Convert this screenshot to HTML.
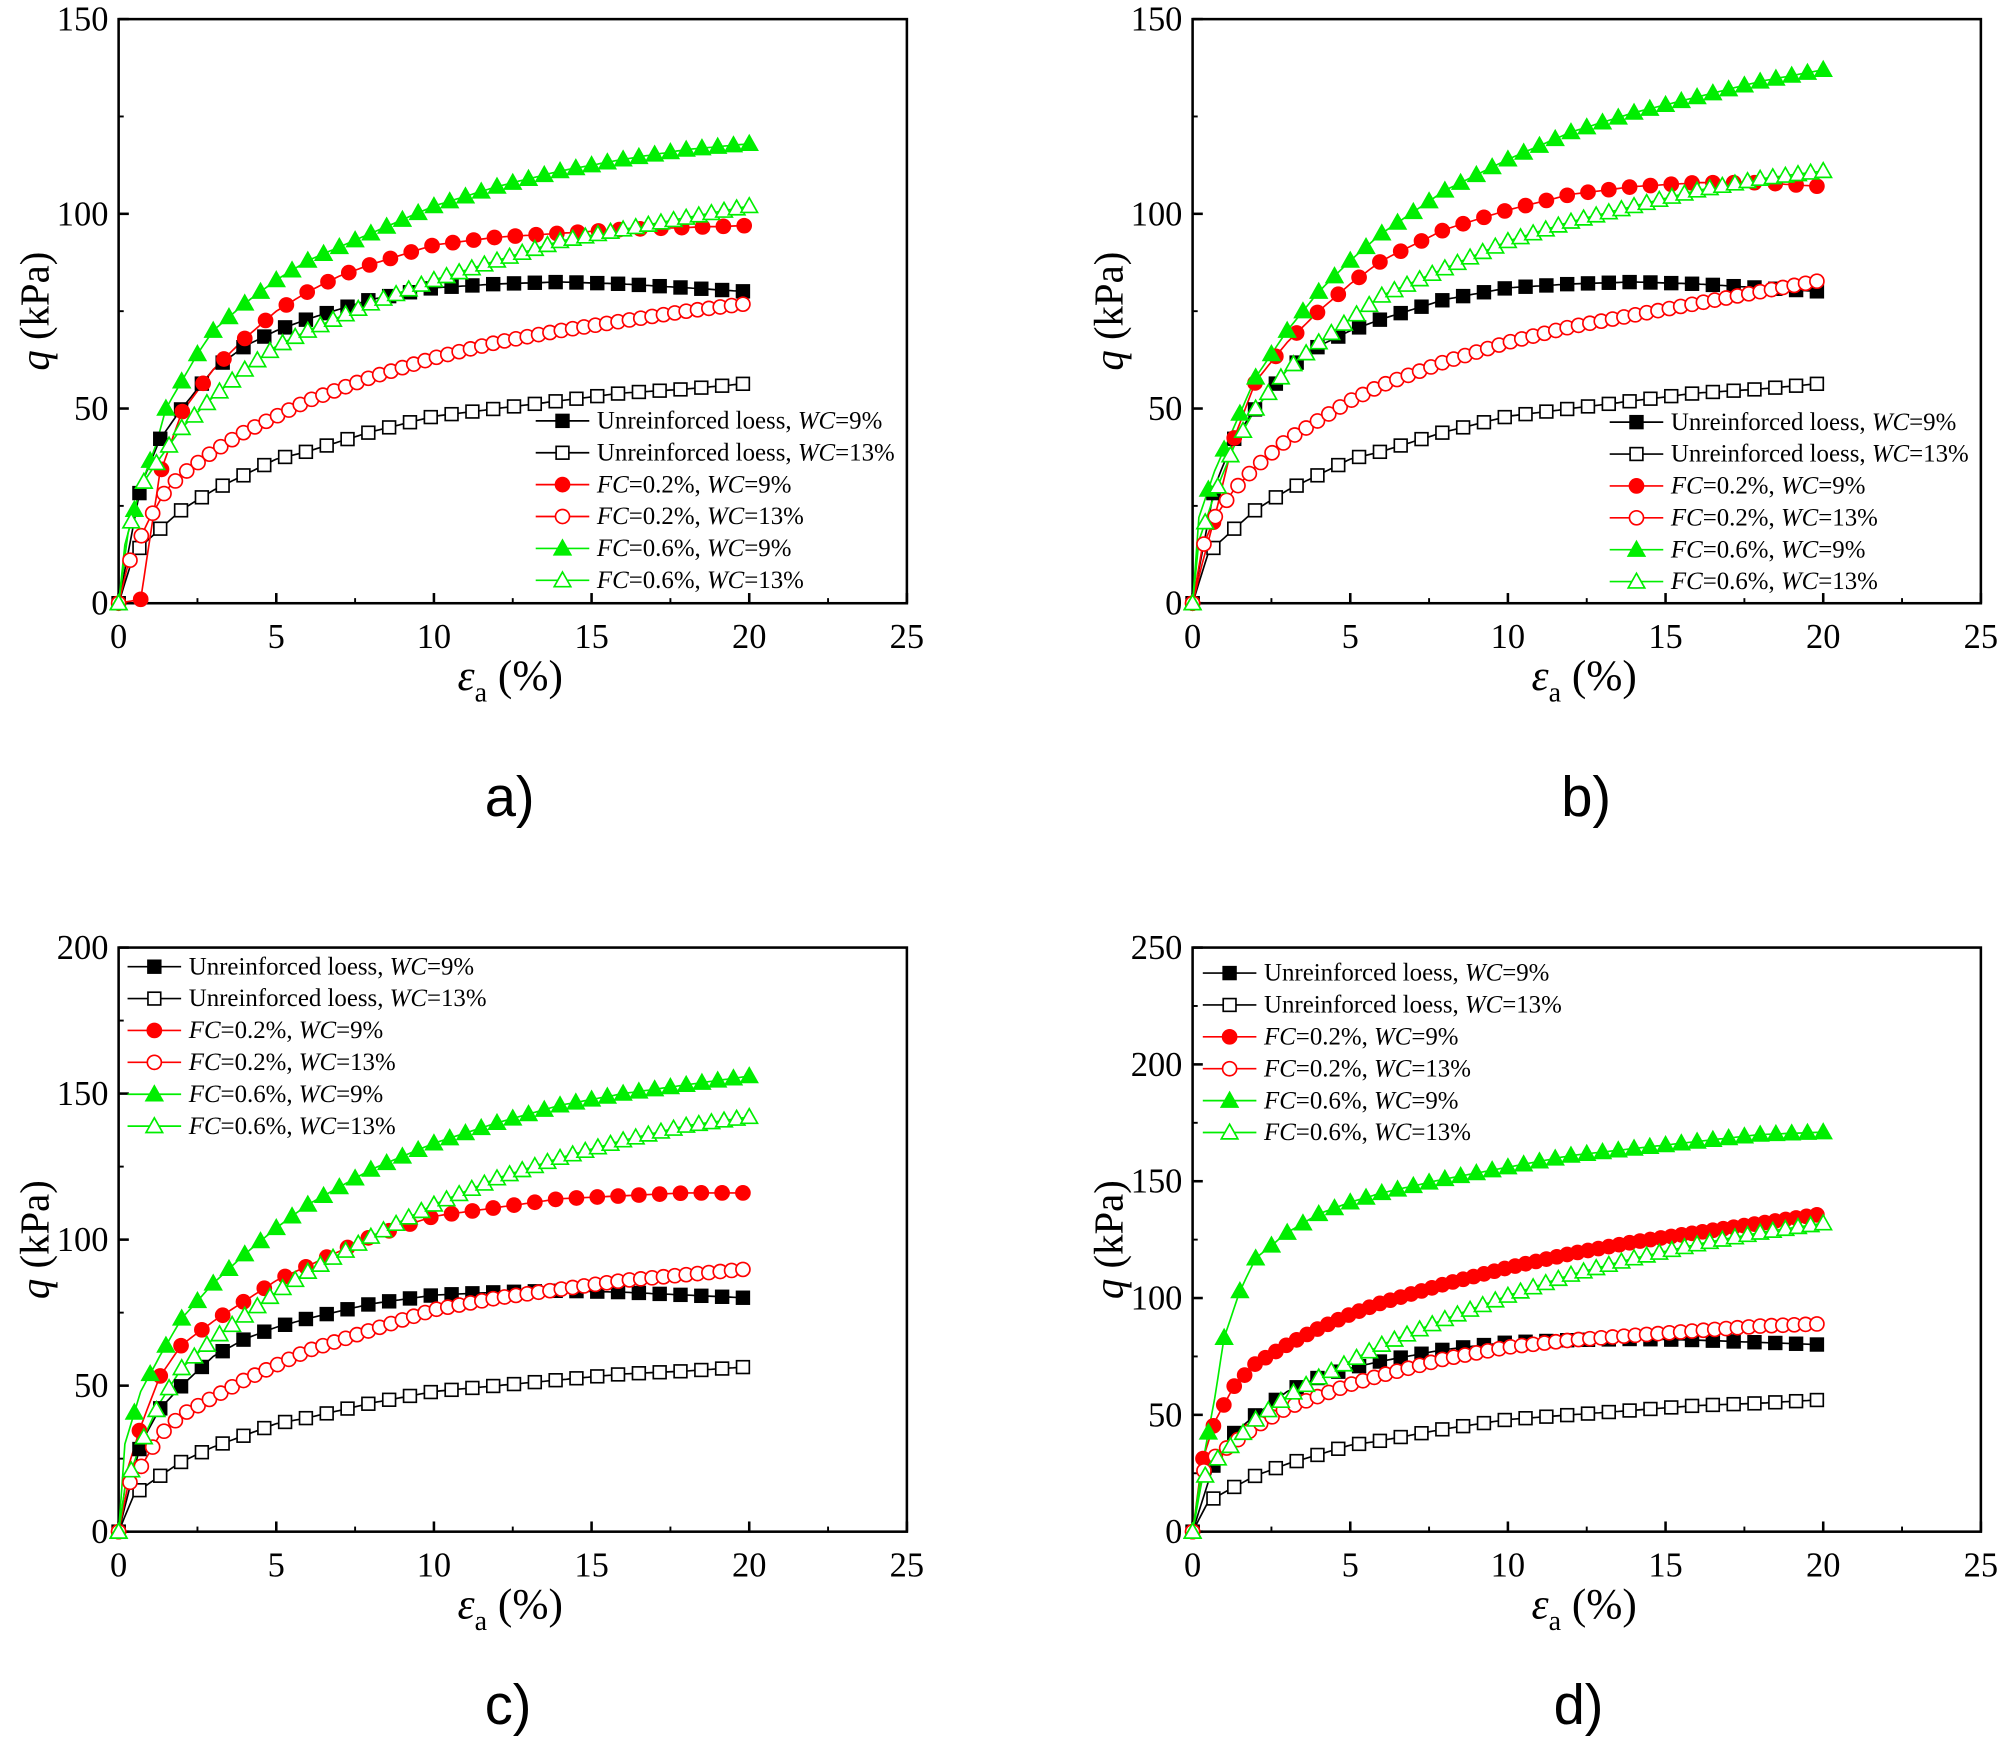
<!DOCTYPE html>
<html><head><meta charset="utf-8"><style>html,body{margin:0;padding:0;background:#fff}svg{display:block}</style></head>
<body>
<svg id="s" width="2000" height="1737" viewBox="0 0 1568 1362" preserveAspectRatio="none" xmlns="http://www.w3.org/2000/svg" font-family="Liberation Serif, serif">
</svg>
<script>
const S=document.getElementById('s');let h='';
const U9=[[0,0],[0.7,30],[1.3,42],[2,50],[3,60],[4,66],[5,70],[6,73],[8,78],[10,81],[12,82],[14,82.5],[16,82],[18,81],[20,80]];
const U13=[[0,0],[0.5,13],[1.3,19],[2,24],[3,29],[4,33],[5,37],[6,39],[8,44],[10,48],[12,50],[14,52],[16,54],[18,55],[20,56.5]];
const P=[
{x0:93,y0:15,ymax:150,yt:[0,50,100,150],leg:[420,330],lab:'a)',lx:380,ly:640,d:[U9,U13,
[[0,0],[0.7,1],[1.3,33],[2,49],[3,60],[4,68],[5,75],[6,80],[7,84],[8,87],[10,92],[12,94],[14,95],[16,96],[18,96.5],[20,97]],
[[0,0],[0.3,10],[0.7,17],[1,22],[1.5,29],[2,33],[3,39],[4,44],[5,48],[6,52],[8,58],[10,63],[12,67],[14,70],[16,72.5],[18,75],[20,77]],
[[0,0],[0.2,15],[0.7,30],[1.2,41],[1.5,50],[2,57],[2.5,64],[3,70],[4,77],[5,83],[6,88],[8,95],[10,102],[12,107],[14,111],[16,114],[18,116.5],[20,118]],
[[0,0],[0.3,18],[0.7,30],[1.2,36],[2,45],[3,53],[4,60],[5,66],[6,70],[8,77],[10,83],[12,88],[14,93],[16,96],[18,99],[20,102]]]},
{x0:935,y0:15,ymax:150,yt:[0,50,100,150],leg:[1262,331],lab:'b)',lx:1224,ly:640,d:[U9,U13,
[[0,0],[0.3,10],[0.7,22],[1.3,42],[2,57],[3,67],[4,75],[5,82],[6,88],[7,92],[8,96],[10,101],[12,105],[14,107],[16,108],[18,108],[20,107]],
[[0,0],[0.3,14],[0.7,22],[1.3,29],[2,35],[3,42],[4,47],[5,52],[6,56],[8,62],[10,67],[12,71],[14,74],[16,77],[18,80],[20,83]],
[[0,0],[0.2,22],[0.7,34],[1.3,45],[2,58],[3,70],[4,80],[5,88],[6,95],[8,106],[10,114],[12,121],[14,126],[16,130],[18,134],[20,137]],
[[0,0],[0.2,16],[0.7,28],[1.3,40],[2,50],[3,60],[4,67],[5,73],[6,79],[8,86],[10,93],[12,98],[14,102],[16,106],[18,109],[20,111]]]},
{x0:93,y0:743,ymax:200,yt:[0,50,100,150,200],leg:[100,758],lab:'c)',lx:380,ly:1352,d:[U9,U13,
[[0,0],[0.3,22],[0.7,36],[1.3,53],[2,64],[3,72],[4,79],[5,86],[6,91],[8,101],[10,108],[12,111],[14,114],[16,115],[18,116],[20,116]],
[[0,0],[0.3,16],[0.7,22],[1.3,33],[2,40],[3,46],[4,52],[5,57],[6,62],[8,69],[10,76],[12,80],[14,83],[16,86],[18,88],[20,90]],
[[0,0],[0.2,30],[0.7,48],[1.3,60],[2,73],[3,85],[4,95],[5,104],[6,112],[8,124],[10,133],[12,140],[14,146],[16,150],[18,153],[20,156]],
[[0,0],[0.2,15],[0.7,30],[1.3,44],[2,56],[3,66],[4,74],[5,82],[6,89],[8,101],[10,112],[12,121],[14,128],[16,134],[18,139],[20,142]]]},
{x0:935,y0:743,ymax:250,yt:[0,50,100,150,200,250],leg:[943,763],lab:'d)',lx:1218,ly:1352,dense:1,d:[U9,U13,
[[0,0],[0.3,30],[0.7,47],[1.3,62],[2,72],[3,80],[4,87],[5,93],[6,98],[8,106],[10,113],[12,119],[14,124],[16,128],[18,132],[20,136]],
[[0,0],[0.3,25],[0.7,32],[1.3,38],[2,45],[3,53],[4,58],[5,63],[6,67],[8,74],[10,79],[12,82],[14,84],[16,86],[18,88],[20,89]],
[[0,0],[0.3,28],[0.7,57],[1,83],[1.5,103],[2,117],[3,128],[4,136],[5,141],[6,145],[8,151],[10,156],[12,161],[14,164],[16,167],[18,170],[20,171]],
[[0,0],[0.3,22],[0.7,30],[1.3,38],[2,48],[3,58],[4,66],[5,73],[6,80],[8,91],[10,101],[12,110],[14,117],[16,123],[18,128],[20,132]]]}
];
const ST=[{c:'#000',m:'s',f:1,st:0.66},{c:'#000',m:'s',f:0,st:0.66},{c:'#f00',m:'c',f:1,st:0.66},{c:'#f00',m:'c',f:0,st:0.36},{c:'#0e0',m:'t',f:1,st:0.5},{c:'#0e0',m:'t',f:0,st:0.4}];
const LBL=['Unreinforced loess, <tspan font-style="italic">WC</tspan>=9%','Unreinforced loess, <tspan font-style="italic">WC</tspan>=13%',
'<tspan font-style="italic">FC</tspan>=0.2%, <tspan font-style="italic">WC</tspan>=9%','<tspan font-style="italic">FC</tspan>=0.2%, <tspan font-style="italic">WC</tspan>=13%',
'<tspan font-style="italic">FC</tspan>=0.6%, <tspan font-style="italic">WC</tspan>=9%','<tspan font-style="italic">FC</tspan>=0.6%, <tspan font-style="italic">WC</tspan>=13%'];
function interp(k,e){for(let i=1;i<k.length;i++){if(e<=k[i][0]){const a=k[i-1],b=k[i];return a[1]+(b[1]-a[1])*(e-a[0])/(b[0]-a[0]);}}return k[k.length-1][1];}
function mk(m,x,y,c,f){const fill=f?c:'#fff';
 if(m==='s')return `<rect x="${x-5}" y="${y-5}" width="10" height="10" fill="${fill}" stroke="${c}" stroke-width="1.3"/>`;
 if(m==='c')return `<circle cx="${x}" cy="${y}" r="5.5" fill="${fill}" stroke="${c}" stroke-width="1.3"/>`;
 return `<polygon points="${x},${y-6.5} ${x+6.5},${y+5} ${x-6.5},${y+5}" fill="${fill}" stroke="${c}" stroke-width="1.3"/>`;}
P.forEach(p=>{const W=618,H=458,xs=W/25,ys=H/p.ymax,X=e=>p.x0+e*xs,Y=q=>p.y0+H-q*ys;
 h+=`<rect x="${p.x0}" y="${p.y0}" width="${W}" height="${H}" fill="none" stroke="#000" stroke-width="2"/>`;
 for(let v=0;v<=25;v+=5){h+=`<line x1="${X(v)}" y1="${p.y0+H}" x2="${X(v)}" y2="${p.y0+H-8}" stroke="#000" stroke-width="2"/>`;
  if(v<25)h+=`<line x1="${X(v+2.5)}" y1="${p.y0+H}" x2="${X(v+2.5)}" y2="${p.y0+H-4}" stroke="#000" stroke-width="1.5"/>`;
  h+=`<text x="${X(v)}" y="${p.y0+H+35}" font-size="27" text-anchor="middle">${v}</text>`;}
 p.yt.forEach((v,i)=>{h+=`<line x1="${p.x0}" y1="${Y(v)}" x2="${p.x0+8}" y2="${Y(v)}" stroke="#000" stroke-width="2"/>`;
  if(i<p.yt.length-1)h+=`<line x1="${p.x0}" y1="${Y(v+25)}" x2="${p.x0+4}" y2="${Y(v+25)}" stroke="#000" stroke-width="1.5"/>`;
  h+=`<text x="${p.x0-8}" y="${Y(v)+9}" font-size="27" text-anchor="end">${v}</text>`;});
 h+=`<text transform="translate(${p.x0-55},${p.y0+H/2}) rotate(-90)" font-size="32" text-anchor="middle"><tspan font-style="italic">q</tspan> (kPa)</text>`;
 h+=`<text x="${p.x0+307}" y="${p.y0+H+68}" font-size="34" text-anchor="middle"><tspan font-style="italic">ε</tspan><tspan font-size="22" dy="9">a</tspan><tspan dy="-9"> (%)</tspan></text>`;
 h+=`<text x="${p.lx}" y="${p.ly}" font-size="44" font-family="Liberation Sans, sans-serif">${p.lab}</text>`;
 p.d.forEach((k,i)=>{const s=ST[i];let pts=[];for(let e=0;e<=20.001;e+=0.1)pts.push(X(e).toFixed(1)+','+Y(interp(k,e)).toFixed(1));
  h+=`<polyline points="${pts.join(' ')}" fill="none" stroke="${s.c}" stroke-width="1.3"/>`;});
 p.d.forEach((k,i)=>{const s=ST[i];let st=s.st;if(p.dense&&i==2)st=0.33;
  for(let e=(i==2&&p.lab=='a)')?0.7:0;e<=20.05;e+=st)h+=mk(s.m,X(e),Y(interp(k,e)),s.c,s.f);});
 const [lx,ly]=p.leg;LBL.forEach((t,i)=>{const s=ST[i],y=ly+i*25;
  h+=`<line x1="${lx}" y1="${y}" x2="${lx+42}" y2="${y}" stroke="${s.c}" stroke-width="1.3"/>`+mk(s.m,lx+21,y,s.c,s.f);
  h+=`<text x="${lx+48}" y="${y+6}" font-size="19.5">${t}</text>`;});
});
S.innerHTML=h;
</script>
</body></html>
